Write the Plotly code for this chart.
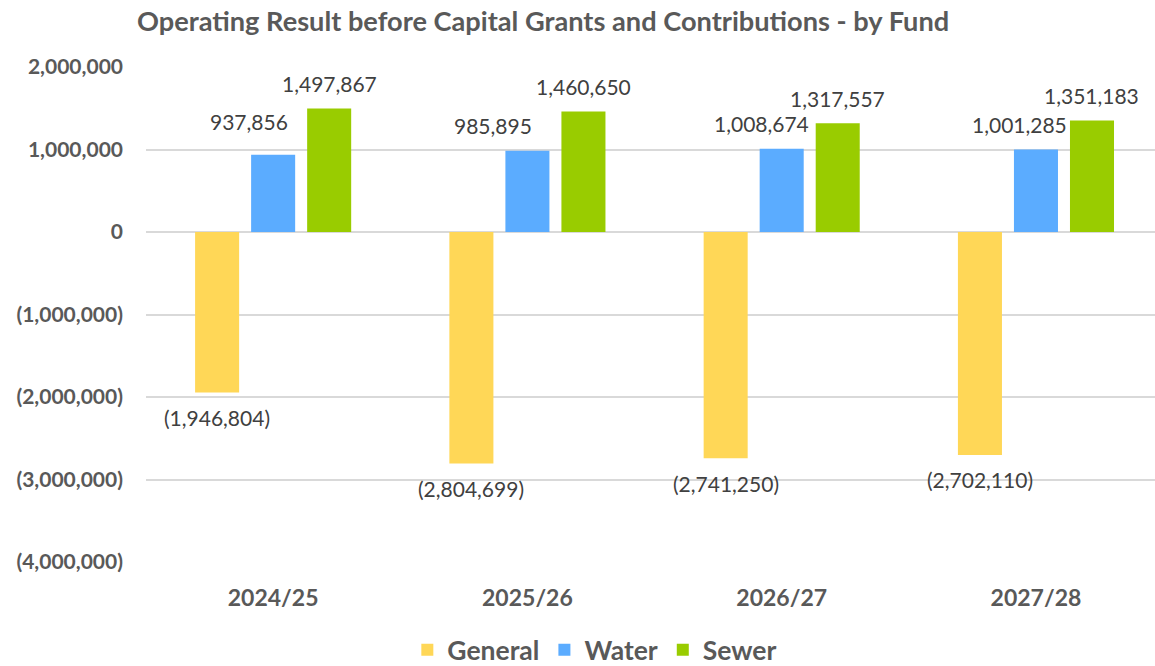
import plotly.graph_objects as go

categories = ["2024/25", "2025/26", "2026/27", "2027/28"]
general = [-1946804, -2804699, -2741250, -2702110]
water = [937856, 985895, 1008674, 1001285]
sewer = [1497867, 1460650, 1317557, 1351183]
series_names = ["General", "Water", "Sewer"]
colors = ["#FFD757", "#5BACFF", "#99CC00"]
y_ticks = [2000000, 1000000, 0, -1000000, -2000000, -3000000, -4000000]

# label nudges (pixels) to mimic the source's label placement
water_label_dx = [-24, -34, -20, -16]
water_label_dy = [8, 0, 0, 0]

FONT = "Lato"
GREY = "#595959"
LABEL = "#404040"


def fmt(v):
    s = f"{abs(v):,.0f}"
    return f"({s})" if v < 0 else s


fig = go.Figure()
all_series = [general, water, sewer]
for name, vals, col in zip(series_names, all_series, colors):
    fig.add_trace(go.Bar(name=name, x=categories, y=vals, marker=dict(color=col, line=dict(width=0))))

bar_dx = [-56, 0, 56]
annotations = []
for si, vals in enumerate(all_series):
    for ci, (cat, v) in enumerate(zip(categories, vals)):
        dx = bar_dx[si] + (water_label_dx[ci] if si == 1 else 0)
        dy = (25 if v >= 0 else -25) + (water_label_dy[ci] if si == 1 else 0)
        annotations.append(dict(
            x=cat, y=v, xref="x", yref="y", text=fmt(v), showarrow=False,
            xshift=dx, yshift=dy,
            yanchor="middle", xanchor="center",
            font=dict(family=FONT, size=21, color=LABEL),
        ))

fig.update_layout(
    width=1155, height=666,
    margin=dict(l=146, r=0, t=67, b=104, autoexpand=False),
    paper_bgcolor="white", plot_bgcolor="white",
    barmode="group", bargap=0.339, bargroupgap=0.214,
    title=dict(
        text="<b>Operating Result before Capital Grants and Contributions - by Fund</b>",
        x=137 / 1155, xanchor="left", xref="container",
        y=1 - 21 / 666, yanchor="middle", yref="container",
        font=dict(family=FONT, size=27.2, color=GREY),
    ),
    xaxis=dict(
        range=[-0.5, 3 + (1155 - 1036) / 254.2],
        showgrid=False, zeroline=False, showline=False, ticks="",
        tickfont=dict(family=FONT, size=23, color=GREY, weight="bold"),
        ticklabelstandoff=20, automargin=False,
    ),
    yaxis=dict(
        range=[-4000000, 2000000],
        tickvals=y_ticks, ticktext=[fmt(v) for v in y_ticks],
        showgrid=True, gridcolor="#D9D9D9", gridwidth=2,
        zeroline=True, zerolinecolor="#D9D9D9", zerolinewidth=2,
        showline=False, ticks="",
        tickfont=dict(family=FONT, size=21, color=GREY, weight="bold"),
        ticklabelstandoff=22, automargin=False,
    ),
    legend=dict(
        orientation="h", x=0.515, xanchor="center", xref="container",
        y=(666 - 650) / 666, yanchor="middle", yref="container",
        font=dict(family=FONT, size=26.5, color=GREY, weight="bold"),
        itemsizing="constant", traceorder="normal",
    ),
    annotations=annotations,
    showlegend=True,
)

fig.write_html(
    "out.html",
    config={"displayModeBar": False},
    post_script="document.body.style.margin='0';document.body.style.overflow='hidden';",
)
